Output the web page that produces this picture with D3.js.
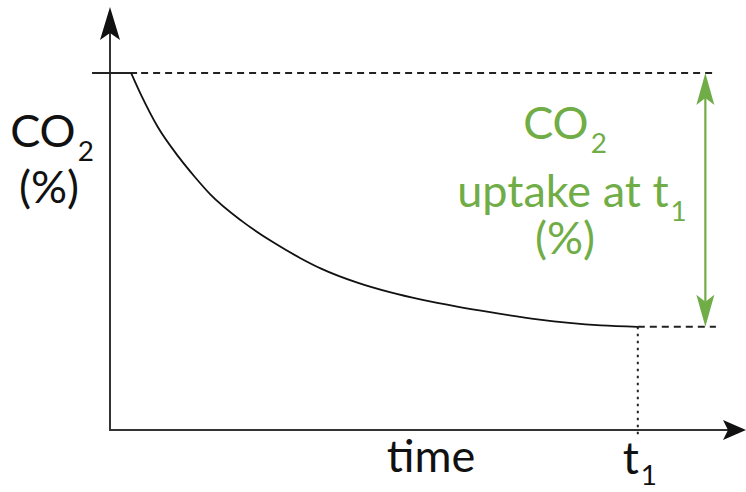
<!DOCTYPE html>
<html><head><meta charset="utf-8">
<script src="https://cdn.jsdelivr.net/npm/d3@7"></script>
<style>html,body{margin:0;padding:0;background:#fff;}svg{display:block;}</style>
</head><body>
<svg id="chart" width="746" height="492"></svg>
<script>
// ---- data ----
const timeValues = [4, 6, 9, 13, 16, 19, 25, 31, 36, 40, 47, 53, 59, 66, 72, 81, 87, 93, 100];
const co2Values  = [100, 93.5, 85, 76.5, 71, 66, 58.5, 52.5, 48.2, 45.2, 41.2, 38.6, 36.5, 34.5, 33.0, 31.0, 30.0, 29.3, 28.9];
const t1 = 100;
const startLevel = 100;
const endLevel = 28.9;
const xAxisLabel = "time";
const yLabelLines = [["CO", "2"], ["(%)", ""]];
const uptakeLines = [["CO", "2"], ["uptake at t", "1"], ["(%)", ""]];
const t1Label = ["t", "1"];

// ---- scales ----
const x = d3.scaleLinear().domain([0, 120.5]).range([110, 746]);
const y = d3.scaleLinear().domain([0, 100]).range([430, 73]);
const xMin = 0, xMax = 120.5, yMin = 0, yMax = 118.5;
const refStart = -3.4, refEnd = 114.8, arrowX = 112.8;

const svg = d3.select("#chart");
const font = "Lato, 'Open Sans', sans-serif";
const green = "#70AD47";
const fs = 45;

// axes
svg.append("line").attr("x1", x(xMin)).attr("x2", x(xMax) - 18)
  .attr("y1", y(yMin)).attr("y2", y(yMin)).attr("stroke", "#333").attr("stroke-width", 2);
svg.append("line").attr("x1", x(xMin)).attr("x2", x(xMin))
  .attr("y1", y(yMin) + 1).attr("y2", y(yMax) + 25).attr("stroke", "#333").attr("stroke-width", 2);

function arrowHead(tipX, tipY, dir, len, half, notch, color) {
  const [dx, dy] = dir;
  const bx = tipX - dx * len, by = tipY - dy * len;
  const nx = tipX - dx * notch, ny = tipY - dy * notch;
  const px = -dy, py = dx;
  const p = d3.path();
  p.moveTo(tipX, tipY);
  p.lineTo(bx + px * half, by + py * half);
  p.lineTo(nx, ny);
  p.lineTo(bx - px * half, by - py * half);
  p.closePath();
  svg.append("path").attr("d", p.toString()).attr("fill", color);
}
arrowHead(x(xMin), y(yMax), [0, -1], 33, 10, 26, "#111");
arrowHead(x(xMax), y(yMin), [1, 0], 23, 10, 18, "#111");

// reference lines
svg.append("line").attr("x1", x(refStart)).attr("x2", x(timeValues[0]) + 6)
  .attr("y1", y(startLevel)).attr("y2", y(startLevel)).attr("stroke", "#222").attr("stroke-width", 2);
svg.append("line").attr("x1", x(timeValues[0]) + 10).attr("x2", x(refEnd))
  .attr("y1", y(startLevel)).attr("y2", y(startLevel)).attr("stroke", "#222").attr("stroke-width", 2)
  .attr("stroke-dasharray", "7,5");
svg.append("line").attr("x1", x(t1)).attr("x2", x(refEnd))
  .attr("y1", y(endLevel)).attr("y2", y(endLevel)).attr("stroke", "#222").attr("stroke-width", 2)
  .attr("stroke-dasharray", "7,5");
svg.append("line").attr("x1", x(t1)).attr("x2", x(t1))
  .attr("y1", y(endLevel)).attr("y2", y(yMin) + 8).attr("stroke", "#222").attr("stroke-width", 2)
  .attr("stroke-dasharray", "2.5,4.5");

// curve
const pts = timeValues.map((t, i) => [t, co2Values[i]]);
svg.append("path").datum(pts)
  .attr("d", d3.line().x(d => x(d[0])).y(d => y(d[1])).curve(d3.curveMonotoneX))
  .attr("fill", "none").attr("stroke", "#111").attr("stroke-width", 1.8);

// green double arrow
svg.append("line").attr("x1", x(arrowX)).attr("x2", x(arrowX))
  .attr("y1", y(startLevel) + 25).attr("y2", y(endLevel) - 25)
  .attr("stroke", green).attr("stroke-width", 2.2);
arrowHead(x(arrowX), y(startLevel), [0, -1], 32, 9, 25, green);
arrowHead(x(arrowX), y(endLevel), [0, 1], 32, 9, 25, green);

function subText(cx, baseline, parts, size, color, shift) {
  const t = svg.append("text").attr("x", cx).attr("y", baseline)
    .attr("text-anchor", "middle").attr("font-family", font)
    .attr("font-size", size).attr("fill", color);
  t.append("tspan").text(parts[0]);
  if (parts[1]) {
    t.append("tspan").attr("font-size", size * 0.62).attr("dx", 2)
      .attr("dy", shift !== undefined ? shift : size * 0.32).text(parts[1]);
  }
  return t;
}
subText(52, 147, yLabelLines[0], fs, "#111");
subText(49, 203, yLabelLines[1], fs, "#111");
subText(565, 139, uptakeLines[0], fs, green);
subText(572, 207, uptakeLines[1], fs, green);
subText(565, 254, uptakeLines[2], fs, green);
svg.append("text").attr("x", 431).attr("y", 472).attr("text-anchor", "middle")
  .attr("font-family", font).attr("font-size", fs).attr("fill", "#111").text(xAxisLabel);
subText(x(t1) + 2, 474, t1Label, fs, "#111", 11);
</script>
</body></html>
